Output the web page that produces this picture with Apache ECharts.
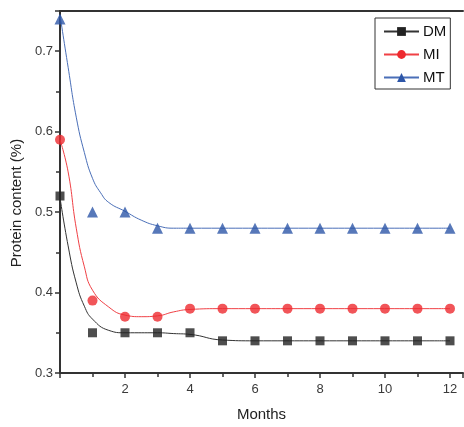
<!DOCTYPE html>
<html>
<head>
<meta charset="utf-8">
<script src="https://cdn.jsdelivr.net/npm/echarts@6/dist/echarts.min.js"></script>
<style>html,body{margin:0;padding:0;background:#fff;}#c{width:464px;height:427px;}</style>
</head>
<body>
<div id="c"></div>
<script>
// Measured points
var months = [0, 1, 2, 3, 4, 5, 6, 7, 8, 9, 10, 11, 12];
var DM = [0.52, 0.35, 0.35, 0.35, 0.35, 0.34, 0.34, 0.34, 0.34, 0.34, 0.34, 0.34, 0.34];
var MI = [0.59, 0.39, 0.37, 0.37, 0.38, 0.38, 0.38, 0.38, 0.38, 0.38, 0.38, 0.38, 0.38];
var MT = [0.74, 0.50, 0.50, 0.48, 0.48, 0.48, 0.48, 0.48, 0.48, 0.48, 0.48, 0.48, 0.48];
// Fitted curves: [month, value]
var DM_fit = [[0,0.518],[0.25,0.458],[0.5,0.412],[0.75,0.383],[1,0.367],[1.5,0.353],[2,0.35],[3,0.35],[3.5,0.349],[4,0.348],[5,0.341],[6,0.34],[9,0.34],[12,0.34]];
var MI_fit = [[0,0.59],[0.25,0.55],[0.5,0.48],[0.75,0.432],[1,0.403],[1.5,0.382],[2,0.372],[2.5,0.37],[3,0.371],[3.5,0.376],[4,0.379],[5,0.38],[8,0.38],[12,0.38]];
var MT_fit = [[0,0.745],[0.25,0.68],[0.5,0.618],[0.75,0.574],[1,0.542],[1.25,0.524],[1.5,0.512],[2,0.501],[2.5,0.49],[3,0.483],[3.5,0.48],[4,0.48],[8,0.48],[12,0.48]];
var names = ['DM', 'MI', 'MT'];
var colors = ['#222222', '#ee2a2f', '#2d56a8'];
var lineColors = ['#333333', '#f04045', '#4a6fb8'];
var symbols = ['rect', 'circle', 'triangle'];
var symbolSizes = [9, 10, 11];
var points = [DM, MI, MT];
var fits = [DM_fit, MI_fit, MT_fit];

var chart = echarts.init(document.getElementById('c'), null, {renderer: 'canvas'});
var series = [];
for (var i = 0; i < 3; i++) {
  series.push({
    name: names[i], type: 'line', data: fits[i], smooth: 0.5,
    symbol: symbols[i], showSymbol: false, symbolSize: symbolSizes[i],
    lineStyle: {color: lineColors[i], width: 1},
    itemStyle: {color: colors[i]},
    emphasis: {disabled: true}, silent: true, z: 2
  });
  series.push({
    name: names[i] + ' points', type: 'scatter',
    data: months.map(function (m, k) { return [m, points[i][k]]; }),
    symbol: symbols[i], symbolSize: symbolSizes[i],
    itemStyle: {color: colors[i]}, silent: true, z: 3
  });
}
var tickFont = {fontFamily: 'Liberation Sans, Arial, sans-serif', fontSize: 13, color: '#3a3a3a'};
chart.setOption({
  animation: false,
  backgroundColor: '#fff',
  grid: {left: 60, right: 1, top: 11, bottom: 50},
  legend: {
    data: names, orient: 'vertical', left: 375, top: 18,
    itemWidth: 35, itemHeight: 11, itemGap: 8,
    padding: [6, 4, 4, 8],
    borderColor: '#333', borderWidth: 1,
    textStyle: {fontFamily: 'Liberation Sans, Arial, sans-serif', fontSize: 15, color: '#111', padding: [0, 0, 0, -1]}
  },
  xAxis: [{
    type: 'value', min: 0, max: 12.4, interval: 2,
    name: 'Months', nameLocation: 'middle', nameGap: 34,
    nameTextStyle: {fontFamily: 'Liberation Sans, Arial, sans-serif', fontSize: 15, color: '#222'},
    axisLine: {lineStyle: {color: '#333', width: 2}},
    axisTick: {show: true, length: 5, lineStyle: {color: '#333', width: 1.5}},
    minorTick: {show: true, splitNumber: 2, length: 4, lineStyle: {color: '#333', width: 1.5}},
    splitLine: {show: false},
    axisLabel: Object.assign({margin: 10, showMaxLabel: false, formatter: function (v) { return v === 0 ? '' : String(v); }}, tickFont)
  }, {
    type: 'value', position: 'top', min: 0, max: 12.4,
    axisLine: {show: true, lineStyle: {color: '#333', width: 2}},
    axisTick: {show: false}, axisLabel: {show: false}, splitLine: {show: false}
  }],
  yAxis: {
    type: 'value', min: 0.3, max: 0.75, interval: 0.1,
    name: 'Protein content (%)', nameLocation: 'middle', nameGap: 36,
    nameTextStyle: {fontFamily: 'Liberation Sans, Arial, sans-serif', fontSize: 15, color: '#222', padding: [0, 0, 0, -22]},
    axisLine: {show: true, lineStyle: {color: '#333', width: 2}},
    axisTick: {show: true, length: 5, lineStyle: {color: '#333', width: 1.5}},
    minorTick: {show: true, splitNumber: 2, length: 4, lineStyle: {color: '#333', width: 1.5}},
    splitLine: {show: false},
    axisLabel: Object.assign({margin: 7, showMaxLabel: false, formatter: function (v) { return v.toFixed(1); }}, tickFont)
  },
  series: series
});
</script>
</body>
</html>
